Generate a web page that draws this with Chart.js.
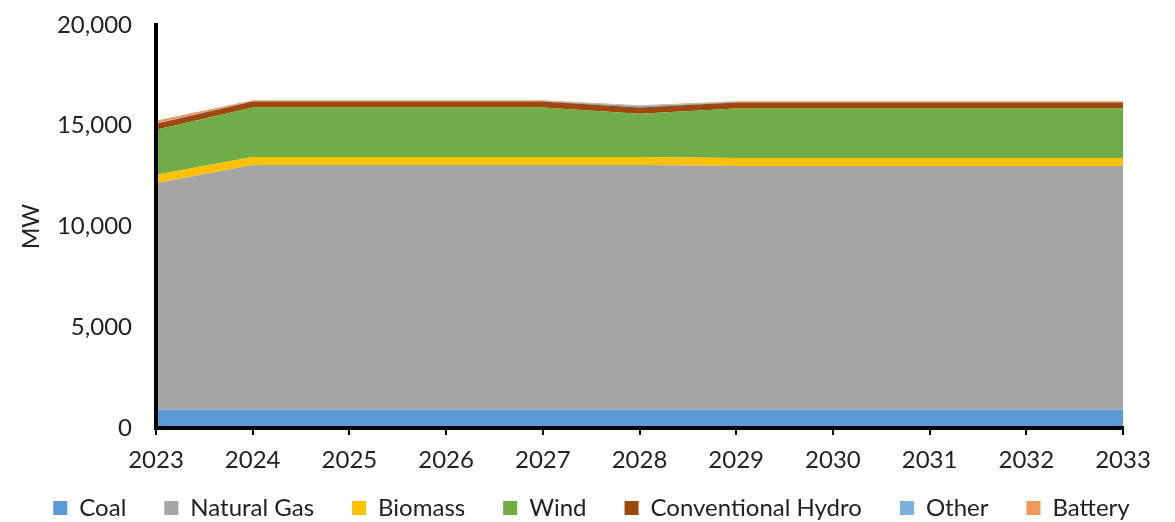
<!DOCTYPE html>
<html>
<head>
<meta charset="utf-8">
<script src="https://cdn.jsdelivr.net/npm/chart.js@4/dist/chart.umd.min.js"></script>
<style>
    html, body { margin: 0; padding: 0; background: #fff; }
    #wrap { width: 1175px; height: 522px; }
</style>
</head>
<body>
<div id="wrap"><canvas id="chartCapacity"></canvas></div>
<script>
const years = ['2023', '2024', '2025', '2026', '2027', '2028', '2029', '2030', '2031', '2032', '2033'];
const coal = [900, 900, 900, 900, 900, 900, 900, 900, 900, 900, 900];
const naturalGas = [11250, 12150, 12150, 12150, 12150, 12150, 12100, 12100, 12100, 12100, 12100];
const biomass = [420, 400, 400, 400, 400, 400, 400, 400, 400, 400, 400];
const wind = [2230, 2450, 2450, 2450, 2450, 2150, 2450, 2450, 2450, 2450, 2450];
const hydro = [300, 300, 300, 300, 300, 300, 300, 300, 300, 300, 300];
const other = [30, 30, 30, 30, 30, 80, 30, 30, 30, 30, 30];
const battery = [120, 40, 40, 40, 40, 40, 40, 40, 40, 40, 40];
const yTicks = [0, 5000, 10000, 15000, 20000];

const font = "Lato, 'Open Sans', sans-serif";

function area(label, data, color, idx) {
    return {
        label: label,
        data: data,
        backgroundColor: color,
        borderColor: color,
        borderWidth: 0,
        pointRadius: 0,
        fill: idx === 0 ? 'origin' : '-1',
        tension: 0
    };
}

new Chart(document.getElementById('chartCapacity'), {
    type: 'line',
    data: {
        labels: years,
        datasets: [
            area('Coal', coal, '#5b9bd5', 0),
            area('Natural Gas', naturalGas, '#a5a5a5', 1),
            area('Biomass', biomass, '#ffc000', 2),
            area('Wind', wind, '#70ad47', 3),
            area('Conventional Hydro', hydro, '#9e480e', 4),
            area('Other', other, '#7cafdd', 5),
            area('Battery', battery, '#f1975a', 6)
        ]
    },
    options: {
        responsive: true,
        maintainAspectRatio: false,
        animation: false,
        layout: { padding: { top: 0, right: 0, left: 8, bottom: -8 } },
        plugins: {
            tooltip: { enabled: false },
            legend: {
                position: 'bottom',
                labels: {
                    font: { family: font, size: 24 },
                    color: '#222',
                    boxWidth: 14,
                    boxHeight: 14,
                    padding: 38,
                    useBorderRadius: false
                }
            }
        },
        scales: {
            x: {
                offset: false,
                afterFit: (axis) => {
                    axis.height = 30;
                    axis.paddingRight = 52;
                    // labels sit lower than the axis box, so don't clip them to it
                    axis._computeLabelArea = () => null;
                },
                grid: { display: true, drawOnChartArea: false, drawTicks: true, tickLength: 7, color: '#000', lineWidth: 2, z: 1 },
                border: { color: '#000', width: 4, z: 1 },
                ticks: { font: { family: font, size: 24 }, color: '#222', padding: 11, maxRotation: 0 }
            },
            y: {
                stacked: true,
                min: 0,
                max: 20000,
                afterFit: (axis) => {
                    axis.width = 148;
                    axis.paddingTop = 25;
                    axis.paddingBottom = 0;
                },
                afterBuildTicks: (axis) => { axis.ticks = yTicks.map(v => ({ value: v })); },
                grid: { display: false, drawTicks: false },
                border: { color: '#000', width: 4, z: 1 },
                title: { display: true, text: 'MW', font: { family: font, size: 23 }, color: '#222', padding: { top: 10, bottom: 0 } },
                ticks: {
                    font: { family: font, size: 24 },
                    color: '#222',
                    padding: 24,
                    callback: (v) => v.toLocaleString('en-US')
                }
            }
        }
    }
});
</script>
</body>
</html>
